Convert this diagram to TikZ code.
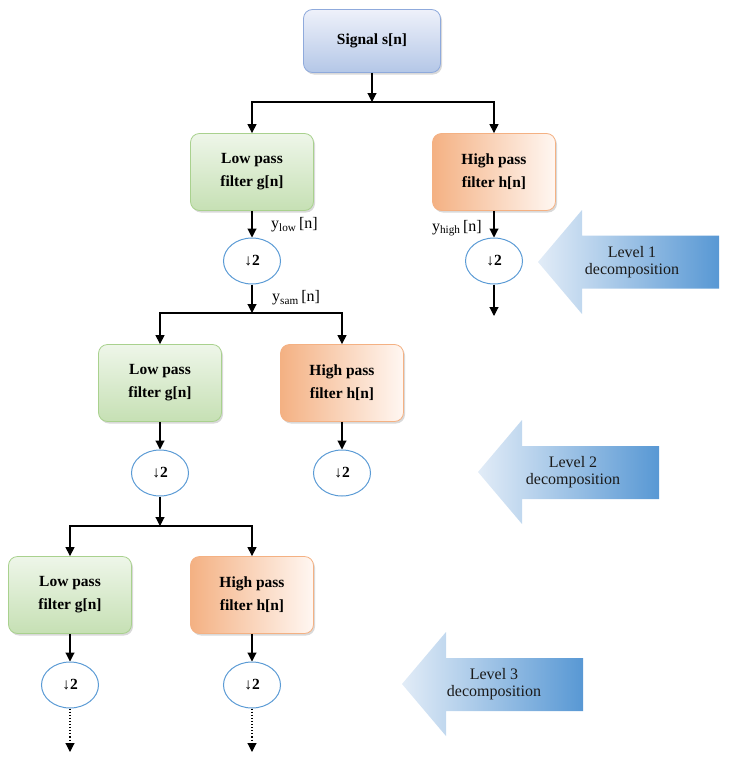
\documentclass[tikz,border=0pt]{standalone}
\usepackage{fontspec}
\setmainfont{Liberation Serif}
\usetikzlibrary{arrows.meta,shapes.geometric,shadows}
\definecolor{lowtop}{HTML}{EEF6E9}
\definecolor{lowbot}{HTML}{C6E0B4}
\definecolor{lowline}{HTML}{A9D18E}
\definecolor{highL}{HTML}{F4B183}
\definecolor{highR}{HTML}{FFF7F2}
\definecolor{highline}{HTML}{F4B183}
\definecolor{sigtop}{HTML}{EEF1FA}
\definecolor{sigbot}{HTML}{B4C7E7}
\definecolor{sigline}{HTML}{8FAADC}
\definecolor{ellline}{HTML}{5B9BD5}
\definecolor{arrL}{HTML}{E2ECF7}
\definecolor{arrR}{HTML}{5898D4}
\definecolor{levtxt}{HTML}{1A1A1A}
\begin{document}
\begin{tikzpicture}[x=1pt,y=-1pt,
  conn/.style={line width=1.1pt,-{Triangle[length=9pt,width=9pt]}},
  fbox/.style={rectangle,rounded corners=9pt,minimum width=123pt,minimum height=77pt,
    align=center,font=\bfseries\fontsize{15.5}{23}\selectfont,line width=0.8pt,
    drop shadow={shadow xshift=1.5pt,shadow yshift=-2pt,opacity=0.3}},
  lowbox/.style={fbox,draw=lowline,top color=lowtop,bottom color=lowbot},
  highbox/.style={fbox,draw=highline,left color=highL,right color=highR},
  sigbox/.style={fbox,minimum width=137pt,minimum height=63pt,draw=sigline,top color=sigtop,bottom color=sigbot},
  decim/.style={ellipse,draw=ellline,line width=1pt,fill=white,minimum width=57pt,
    minimum height=46pt,inner sep=0pt,font=\bfseries\fontsize{15.5}{18}\selectfont},
  sublabel/.style={font=\fontsize{16}{18}\selectfont,inner sep=0pt},
  levtext/.style={align=center,font=\fontsize{16}{17}\selectfont,text=levtxt},
  levshade/.style={left color=arrL,right color=arrR}
]
\useasboundingbox (0,0) rectangle (730,763);

% level arrows
\shade[levshade] (538,262) -- (582,210) -- (582,235.5) -- (719,235.5) -- (719,288.5) -- (582,288.5) -- (582,314) -- cycle;
\node[levtext] (lev1) at (632,262) {Level 1\\decomposition};
\shade[levshade] (478,472) -- (522,420) -- (522,446) -- (659,446) -- (659,499) -- (522,499) -- (522,524) -- cycle;
\node[levtext] (lev2) at (573,472) {Level 2\\decomposition};
\shade[levshade] (402,684) -- (446,632) -- (446,658) -- (583,658) -- (583,711) -- (446,711) -- (446,736) -- cycle;
\node[levtext] (lev3) at (494,684) {Level 3\\decomposition};

% nodes
\node[sigbox] (sig) at (372,41) {Signal s[n]};
\node[lowbox] (lp1) at (252,172) {Low pass\\filter g[n]};
\node[highbox] (hp1) at (494,172) {High pass\\filter h[n]};
\node[decim] (e1) at (252,261) {↓2};
\node[decim] (e1h) at (494,261) {↓2};

\node[lowbox] (lp2) at (160,383) {Low pass\\filter g[n]};
\node[highbox] (hp2) at (342,383) {High pass\\filter h[n]};
\node[decim] (e2) at (160,473) {↓2};
\node[decim] (e2h) at (342,473) {↓2};

\node[lowbox] (lp3) at (70,595) {Low pass\\filter g[n]};
\node[highbox] (hp3) at (252,595) {High pass\\filter h[n]};
\node[decim] (e3) at (70,685) {↓2};
\node[decim] (e3h) at (252,685) {↓2};

% junctions and ends
\coordinate (j1) at (372,102);
\coordinate (j2) at (252,313);
\coordinate (j3) at (160,526);
\coordinate (end1) at (494,316);
\coordinate (end3) at (70,752);
\coordinate (end3h) at (252,752);

% labels
\node[sublabel,anchor=west] (ylow) at (271,225) {y\textsubscript{low}\,[n]};
\node[sublabel,anchor=east] (yhigh) at (482,228) {y\textsubscript{high}\,[n]};
\node[sublabel,anchor=west] (ysam) at (272,298) {y\textsubscript{sam}\,[n]};

% connectors
\draw[conn] (sig) -- (j1);
\draw[conn] (j1) -| (lp1);
\draw[conn] (j1) -| (hp1);
\draw[conn] (lp1) -- (e1);
\draw[conn] (hp1) -- (e1h);
\draw[conn] (e1h) -- (end1);
\draw[conn] (e1) -- (j2);
\draw[conn] (j2) -| (lp2);
\draw[conn] (j2) -| (hp2);
\draw[conn] (lp2) -- (e2);
\draw[conn] (hp2) -- (e2h);
\draw[conn] (e2) -- (j3);
\draw[conn] (j3) -| (lp3);
\draw[conn] (j3) -| (hp3);
\draw[conn] (lp3) -- (e3);
\draw[conn] (hp3) -- (e3h);
\draw[conn,dotted] (e3) -- (end3);
\draw[conn,dotted] (e3h) -- (end3h);
\end{tikzpicture}
\end{document}
